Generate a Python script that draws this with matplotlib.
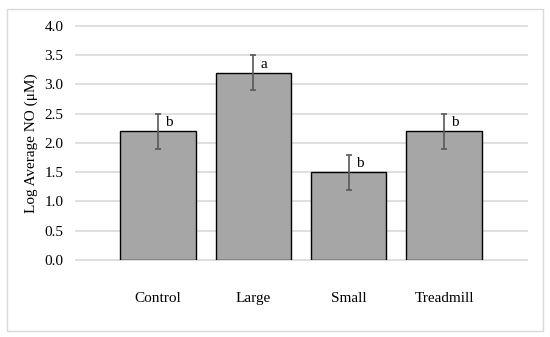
import numpy as np
import matplotlib.pyplot as plt
from matplotlib.patches import Rectangle

plt.rcParams['font.family'] = ['Liberation Serif', 'DejaVu Serif']

categories = ["Control", "Large", "Small", "Treadmill"]
means = [2.2, 3.2, 1.5, 2.2]
errors = [0.3, 0.3, 0.3, 0.3]
letters = ["b", "a", "b", "b"]

W, H = 550, 337
fig = plt.figure(figsize=(5.5, 3.37), dpi=100)
fig.add_artist(Rectangle((7 / W, 1 - 331 / H), (543 - 7) / W, (331 - 9) / H,
                         transform=fig.transFigure, fill=False,
                         edgecolor="#d9d9d9", linewidth=1))

ax = fig.add_axes([76 / W, 1 - 260 / H, (527 - 76) / W, (260 - 25.7) / H])
x = np.arange(len(categories))
ax.bar(x, means, width=0.79, color="#a6a6a6", edgecolor="black", linewidth=1, zorder=3)
ax.errorbar(x, means, yerr=errors, fmt="none", ecolor="#595959",
            elinewidth=1.2, capsize=2.5, capthick=1.2, zorder=4)
for xi, m, e, lab in zip(x, means, errors, letters):
    ax.annotate(lab, (xi, m + e), xytext=(5, -2), textcoords="offset points",
                ha="left", va="top", fontsize=11)

ax.set_xlim(-0.86, 3.87)
ax.set_ylim(0, 4.0)
ax.set_yticks(np.arange(0, 4.01, 0.5))
ax.set_yticklabels([f"{v:.1f}" for v in np.arange(0, 4.01, 0.5)], fontsize=11)
ax.set_xticks(x)
ax.set_xticklabels(categories, fontsize=11)
ax.tick_params(axis="both", length=0)
ax.tick_params(axis="y", pad=9)
ax.tick_params(axis="x", pad=23)
ax.yaxis.grid(True, color="#d9d9d9", linewidth=1.2, zorder=0)
for gl in ax.get_ygridlines():
    gl.set_clip_on(False)
ax.set_axisbelow(True)
for s in ax.spines.values():
    s.set_visible(False)
ax.set_ylabel("Log Average NO (μM)", fontsize=11, labelpad=5)

fig.savefig("out.png", dpi=100)
